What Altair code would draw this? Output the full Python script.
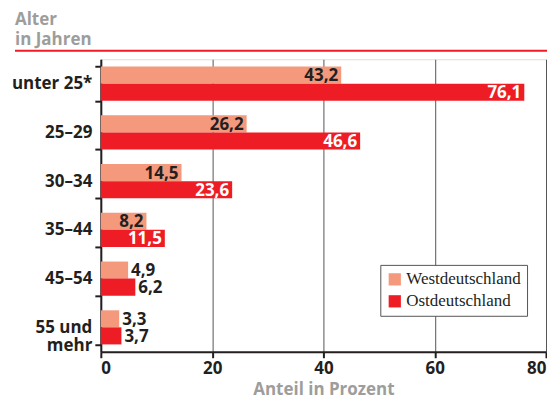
import altair as alt
import pandas as pd

categories = ["unter 25*", "25–29", "30–34", "35–44", "45–54", "55 und\nmehr"]
west = [43.2, 26.2, 14.5, 8.2, 4.9, 3.3]
ost = [76.1, 46.6, 23.6, 11.5, 6.2, 3.7]
series = ["Westdeutschland", "Ostdeutschland"]
colors = ["#F4997B", "#EE1D25"]
x_ticks = [0, 20, 40, 60, 80]

rows = []
for c, w, o in zip(categories, west, ost):
    rows.append({"Alter": c, "Region": series[0], "Wert": w})
    rows.append({"Alter": c, "Region": series[1], "Wert": o})
df = pd.DataFrame(rows)

FONT = "Open Sans"
FS = 17
DARK = "#231F20"
GRAY = "#9D9D9C"

y_enc = alt.Y("Alter:N", sort=categories,
              scale=alt.Scale(paddingInner=0.3, paddingOuter=0.15),
              axis=alt.Axis(title=None,
                            labelExpr="datum.value ? split(datum.value, '\\n') : ''",
                            labelFont=FONT, labelFontWeight="bold", labelFontSize=FS,
                            labelColor=DARK, labelPadding=3, tickBand="extent",
                            tickColor=DARK, tickWidth=2, tickSize=6,
                            domainColor=DARK, domainWidth=2, labelLineHeight=18))
yoff = alt.YOffset("Region:N", sort=series, scale=alt.Scale(paddingInner=0, paddingOuter=0))
x_enc = alt.X("Wert:Q", scale=alt.Scale(domain=[0, 80], nice=False),
              axis=alt.Axis(values=x_ticks, title="Anteil in Prozent",
                            titleFont=FONT, titleFontWeight="bold", titleFontSize=FS,
                            titleColor=GRAY, titlePadding=5,
                            labelFont=FONT, labelFontWeight="bold", labelFontSize=FS,
                            labelColor=DARK, labelPadding=3,
                            domainColor=DARK, domainWidth=2, tickColor=DARK,
                            tickWidth=2, tickSize=6, grid=True, gridColor="#555555",
                            gridWidth=1))

base = alt.Chart(df).transform_calculate(
    label="replace(format(datum.Wert, '.1f'), '.', ',')"
)

bars = base.mark_bar(opacity=1).encode(
    x=x_enc, y=y_enc, yOffset=yoff,
    color=alt.Color("Region:N", sort=series,
                    scale=alt.Scale(domain=series, range=colors),
                    legend=alt.Legend(title=None, orient="none", legendX=280, legendY=206,
                                      labelFont="Liberation Serif", labelFontSize=17,
                                      labelColor=DARK, symbolType="square",
                                      symbolSize=150, symbolStrokeWidth=0,
                                      strokeColor="#555555", fillColor="white",
                                      padding=6, rowPadding=4, labelOffset=3,
                                      symbolOpacity=1)),
)

inside = base.transform_filter("datum.Wert > 7").mark_text(
    align="right", baseline="middle", dx=-3, dy=1, font=FONT, fontWeight="bold", fontSize=FS
).encode(
    x="Wert:Q", y=alt.Y("Alter:N", sort=categories), yOffset=yoff,
    text="label:N",
    color=alt.Color("Region:N", scale=alt.Scale(domain=series, range=[DARK, "white"]), legend=None),
)

outside = base.transform_filter("datum.Wert <= 7").mark_text(
    align="left", baseline="middle", dx=3, dy=1, font=FONT, fontWeight="bold", fontSize=FS,
    color=DARK
).encode(
    x="Wert:Q", y=alt.Y("Alter:N", sort=categories), yOffset=yoff,
    text="label:N",
)

title_text = alt.Chart(pd.DataFrame({"t": [["Alter", "in Jahren"]]})).mark_text(
    align="left", baseline="top", font=FONT, fontWeight="bold", fontSize=FS,
    color=GRAY, lineHeight=20
).encode(x=alt.value(-86), y=alt.value(-47), text="t")

red_line = alt.Chart(pd.DataFrame({"a": [0]})).mark_rule(color="#EE1D25", strokeWidth=2).encode(
    x=alt.value(-86), x2=alt.value(447), y=alt.value(-8.5)
)

chart = alt.layer(bars, inside, outside, title_text, red_line).resolve_scale(
    color="independent"
).properties(
    width=446, height=293,
    autosize=alt.AutoSizeParams(type="none"),
    padding={"left": 93, "top": 51, "right": 1, "bottom": 48},
).configure_view(stroke="#555555", strokeWidth=1).configure(background="white")

chart.save("out.html", embed_options={"renderer": "svg", "actions": False})
